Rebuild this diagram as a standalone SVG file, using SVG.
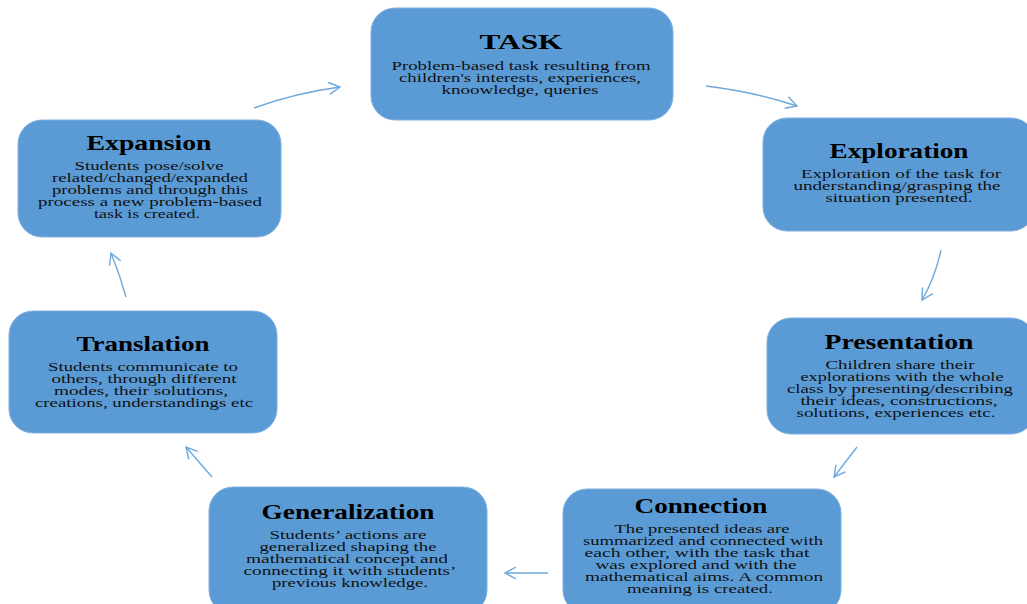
<svg xmlns="http://www.w3.org/2000/svg" width="1027" height="604" viewBox="0 0 1027 604">
<style>
.box{fill:#5b9bd5;stroke:#7fb0df;stroke-width:1}
.t{font-family:"Liberation Serif","Times New Roman",serif;font-weight:bold;font-size:21px;fill:#000;text-anchor:middle}
.b{font-family:"Liberation Serif","Times New Roman",serif;font-size:12.5px;fill:#111;text-anchor:middle}
.c{fill:none;stroke:#6fa8dc;stroke-width:1.4}
</style>
<defs>
<marker id="ah" markerUnits="userSpaceOnUse" markerWidth="16" markerHeight="16" refX="12" refY="7" orient="auto">
<path d="M1,1 L12,7 L1,13" fill="none" stroke="#6fa8dc" stroke-width="1.4"/>
</marker>
</defs>
<rect width="1027" height="604" fill="#fff"/>
<g id="connectors">
<path class="c" d="M254,108 Q295,93 340,87" marker-end="url(#ah)"/>
<path class="c" d="M706,86 Q755,92 797,106" marker-end="url(#ah)"/>
<path class="c" d="M941,250 Q935,278 922,300" marker-end="url(#ah)"/>
<path class="c" d="M857,447 L834,477" marker-end="url(#ah)"/>
<path class="c" d="M548,573 L505,573" marker-end="url(#ah)"/>
<path class="c" d="M212,477 L186,447" marker-end="url(#ah)"/>
<path class="c" d="M126,297 Q120,275 111,253" marker-end="url(#ah)"/>
</g>
<g id="task">
<rect class="box" x="371" y="8" width="302" height="112" rx="24"/>
<text class="t" x="521" y="49" textLength="83" lengthAdjust="spacingAndGlyphs">TASK</text>
<text class="b" x="521" y="70" textLength="259" lengthAdjust="spacingAndGlyphs">Problem-based task resulting from</text>
<text class="b" x="520" y="82" textLength="242" lengthAdjust="spacingAndGlyphs">children's interests, experiences,</text>
<text class="b" x="520" y="94" textLength="157" lengthAdjust="spacingAndGlyphs">knoowledge, queries</text>
</g>
<g id="exploration">
<rect class="box" x="763" y="118" width="272" height="113" rx="24"/>
<text class="t" x="899" y="158" textLength="139" lengthAdjust="spacingAndGlyphs">Exploration</text>
<text class="b" x="901" y="178" textLength="200" lengthAdjust="spacingAndGlyphs">Exploration of the task for</text>
<text class="b" x="897" y="190" textLength="207" lengthAdjust="spacingAndGlyphs">understanding/grasping the</text>
<text class="b" x="899" y="202" textLength="147" lengthAdjust="spacingAndGlyphs">situation presented.</text>
</g>
<g id="presentation">
<rect class="box" x="767" y="318" width="268" height="116" rx="24"/>
<text class="t" x="899" y="349" textLength="149" lengthAdjust="spacingAndGlyphs">Presentation</text>
<text class="b" x="900" y="369" textLength="149" lengthAdjust="spacingAndGlyphs">Children share their</text>
<text class="b" x="902" y="381" textLength="203" lengthAdjust="spacingAndGlyphs">explorations with the whole</text>
<text class="b" x="900" y="393" textLength="226" lengthAdjust="spacingAndGlyphs">class by presenting/describing</text>
<text class="b" x="899" y="405" textLength="197" lengthAdjust="spacingAndGlyphs">their ideas, constructions,</text>
<text class="b" x="896" y="417" textLength="199" lengthAdjust="spacingAndGlyphs">solutions, experiences etc.</text>
</g>
<g id="connection">
<rect class="box" x="563" y="489" width="278" height="125" rx="24"/>
<text class="t" x="701" y="513" textLength="133" lengthAdjust="spacingAndGlyphs">Connection</text>
<text class="b" x="702" y="533" textLength="175" lengthAdjust="spacingAndGlyphs">The presented ideas are</text>
<text class="b" x="703" y="545" textLength="240" lengthAdjust="spacingAndGlyphs">summarized and connected with</text>
<text class="b" x="697" y="557" textLength="225" lengthAdjust="spacingAndGlyphs">each other, with the task that</text>
<text class="b" x="696" y="569" textLength="201" lengthAdjust="spacingAndGlyphs">was explored and with the</text>
<text class="b" x="704" y="581" textLength="238" lengthAdjust="spacingAndGlyphs">mathematical aims. A common</text>
<text class="b" x="700" y="593" textLength="146" lengthAdjust="spacingAndGlyphs">meaning is created.</text>
</g>
<g id="generalization">
<rect class="box" x="209" y="487" width="278" height="127" rx="24"/>
<text class="t" x="348" y="519" textLength="173" lengthAdjust="spacingAndGlyphs">Generalization</text>
<text class="b" x="348" y="539" textLength="157" lengthAdjust="spacingAndGlyphs">Students’ actions are</text>
<text class="b" x="348" y="551" textLength="177" lengthAdjust="spacingAndGlyphs">generalized shaping the</text>
<text class="b" x="347" y="563" textLength="202" lengthAdjust="spacingAndGlyphs">mathematical concept and</text>
<text class="b" x="350" y="575" textLength="213" lengthAdjust="spacingAndGlyphs">connecting it with students’</text>
<text class="b" x="350" y="587" textLength="156" lengthAdjust="spacingAndGlyphs">previous knowledge.</text>
</g>
<g id="translation">
<rect class="box" x="9" y="311" width="268" height="122" rx="24"/>
<text class="t" x="143" y="351" textLength="133" lengthAdjust="spacingAndGlyphs">Translation</text>
<text class="b" x="143" y="371" textLength="190" lengthAdjust="spacingAndGlyphs">Students communicate to</text>
<text class="b" x="144" y="383" textLength="185" lengthAdjust="spacingAndGlyphs">others, through different</text>
<text class="b" x="141" y="395" textLength="174" lengthAdjust="spacingAndGlyphs">modes, their solutions,</text>
<text class="b" x="144" y="407" textLength="218" lengthAdjust="spacingAndGlyphs">creations, understandings etc</text>
</g>
<g id="expansion">
<rect class="box" x="18" y="120" width="263" height="117" rx="24"/>
<text class="t" x="149" y="150" textLength="125" lengthAdjust="spacingAndGlyphs">Expansion</text>
<text class="b" x="149" y="170" textLength="149" lengthAdjust="spacingAndGlyphs">Students pose/solve</text>
<text class="b" x="150" y="182" textLength="196" lengthAdjust="spacingAndGlyphs">related/changed/expanded</text>
<text class="b" x="150" y="194" textLength="196" lengthAdjust="spacingAndGlyphs">problems and through this</text>
<text class="b" x="150" y="206" textLength="224" lengthAdjust="spacingAndGlyphs">process a new problem-based</text>
<text class="b" x="147" y="218" textLength="106" lengthAdjust="spacingAndGlyphs">task is created.</text>
</g>
</svg>
